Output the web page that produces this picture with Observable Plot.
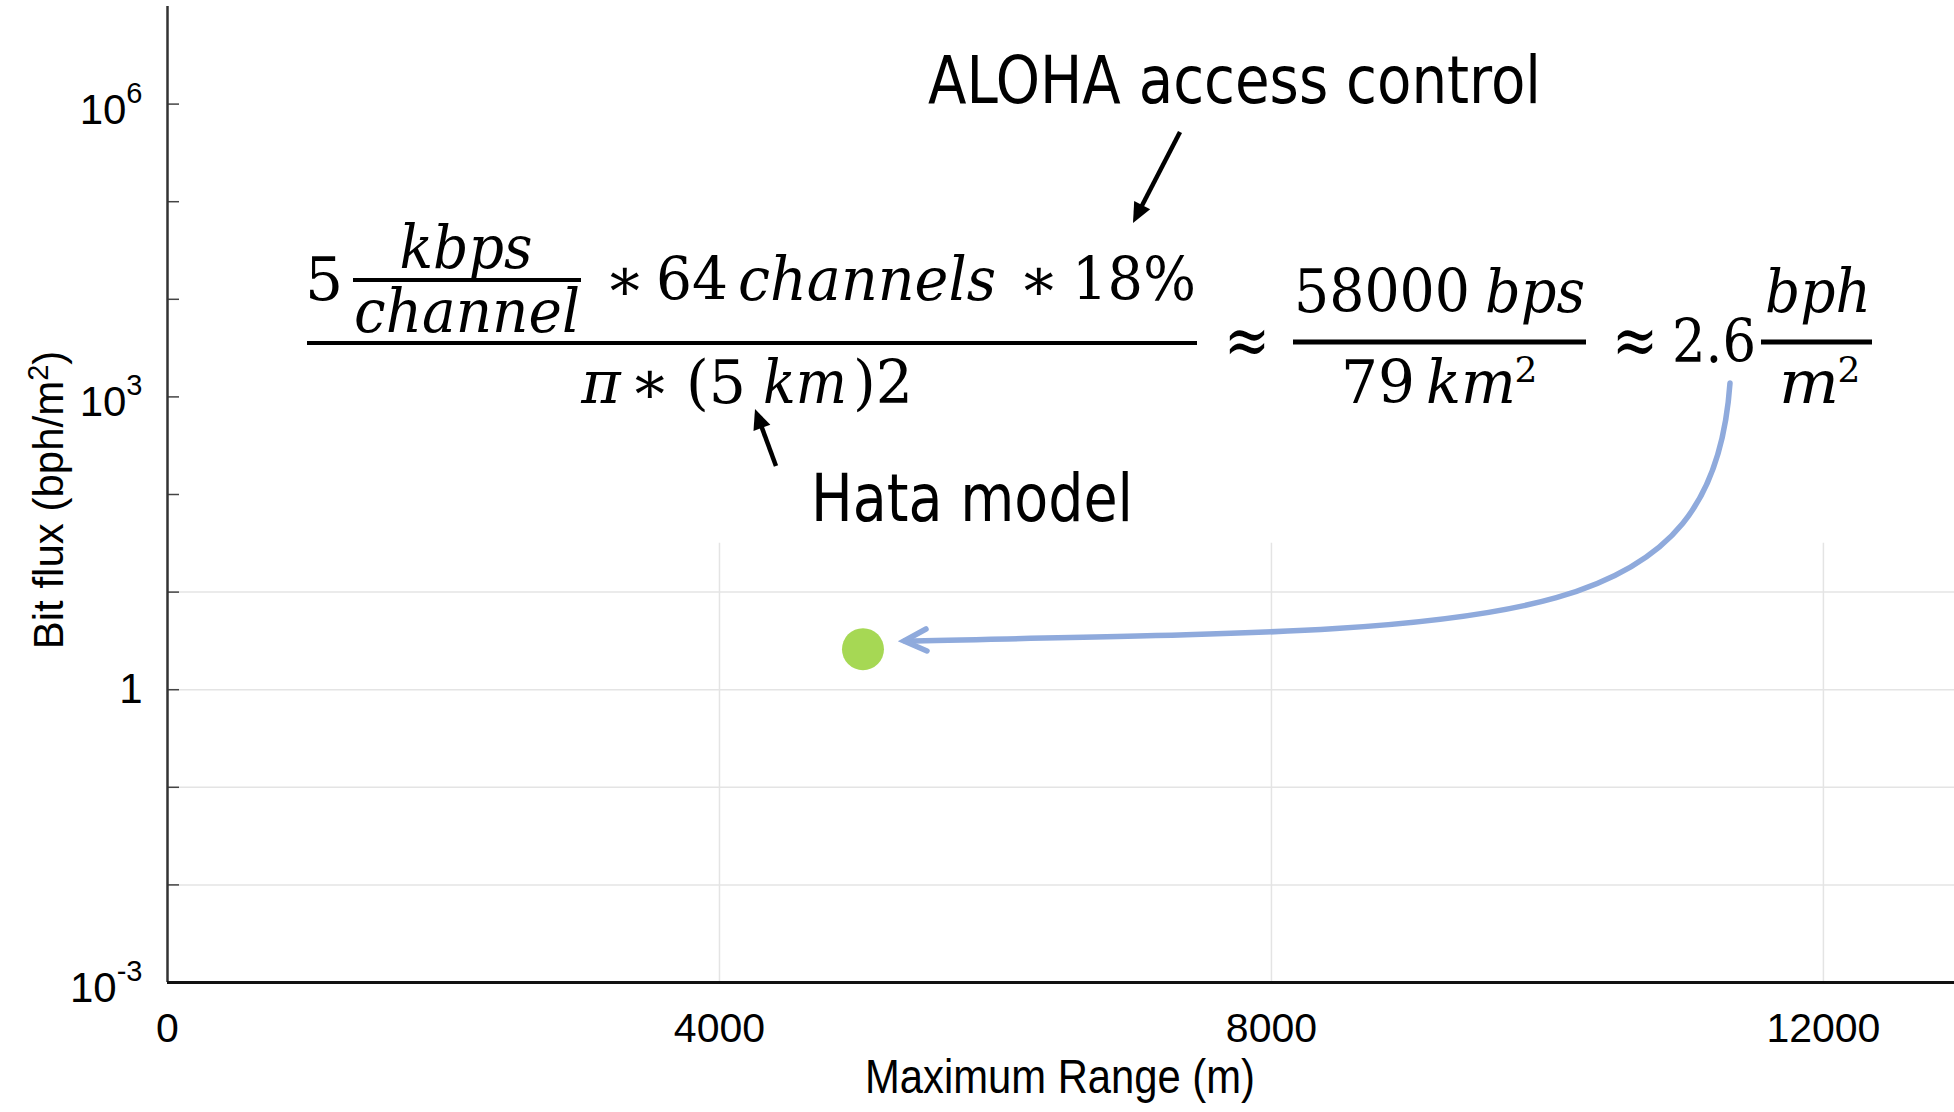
<!DOCTYPE html>
<html><head><meta charset="utf-8">
<script src="https://cdn.jsdelivr.net/npm/d3@7"></script>
<script src="https://cdn.jsdelivr.net/npm/@observablehq/plot@0.6"></script>
<style>
html,body{margin:0;padding:0;background:#fff;}
#chart svg{display:block;}
</style></head><body><div id="chart"></div>
<script>
// ---------------- data ----------------
const rangeM = [5040];          // Maximum Range (m)
const bitFlux = [2.6];          // Bit flux (bph/m^2)
const xTicks = [0, 4000, 8000, 12000];
const xTickLabels = ["0", "4000", "8000", "12000"];
const yDecades = [1e-3, 1e-2, 1e-1, 1, 1e1, 1e2, 1e3, 1e4, 1e5, 1e6];
const yLabelTicks = [1e-3, 1, 1e3, 1e6];
const yTickBase = ["10", "1", "10", "10"];
const yTickExp = ["-3", "", "3", "6"];
const yGrid = [1e-2, 1e-1, 1, 1e1];
const xGrid = [4000, 8000, 12000];
const gridTop = Math.pow(10, 1.5);
const xDomain = [0, 12950];
const yDomain = [1e-3, 1e7];
const xTitle = "Maximum Range (m)";
const yTitle = "Bit flux (bph/m";
const yTitleSup = "2";
const alohaText = "ALOHA access control";
const hataText = "Hata model";

// ---------------- chart ----------------
const W = 1954, H = 1112;
const points = rangeM.map((x, i) => ({x, y: bitFlux[i]}));

const plot = Plot.plot({
  width: W, height: H,
  marginLeft: 167, marginRight: 0, marginTop: 6, marginBottom: 130,
  x: {domain: xDomain},
  y: {type: "log", domain: yDomain},
  style: {fontFamily: "'Liberation Sans', Arial, sans-serif", background: "#fff", color: "#000", overflow: "visible"},
  marks: [
    Plot.ruleY(yGrid, {stroke: "#e4e4e4", strokeWidth: 1.5}),
    Plot.ruleX(xGrid, {y1: yDomain[0], y2: gridTop, stroke: "#e4e4e4", strokeWidth: 1.5}),
    Plot.axisY({ticks: yDecades, tickSize: -12, tickFormat: () => "", stroke: "#444", strokeWidth: 1.5, label: null}),
    Plot.axisY({ticks: yLabelTicks, tickSize: 0, tickPadding: 25, fontSize: 42, label: null,
      tickFormat: d => { const i = yLabelTicks.indexOf(d); return yTickExp[i] ? yTickBase[i] + "^" + yTickExp[i] : yTickBase[i]; }}),
    Plot.axisX({ticks: xTicks, tickSize: 0, tickPadding: 30, fontSize: 41, label: null,
      tickFormat: d => xTickLabels[xTicks.indexOf(d)]}),
    Plot.ruleX([xDomain[0]], {stroke: "#333", strokeWidth: 2.5}),
    Plot.ruleY([yDomain[0]], {stroke: "#111", strokeWidth: 3}),
    Plot.dot(points, {x: "x", y: "y", r: 21, fill: "#a6d854", stroke: "none"})
  ]
});
document.getElementById("chart").appendChild(plot);

const svg = d3.select(plot);
// superscript tick labels
svg.selectAll('g[aria-label="y-axis tick label"] text').each(function () {
  const t = d3.select(this);
  const s = t.text();
  if (!s.includes("^")) return;
  const [b, e] = s.split("^");
  t.text(null);
  t.append("tspan").attr("dy", 6).text(b);
  t.append("tspan").attr("dy", -21).attr("font-size", 29).text(e);
});

// ---------------- annotations (layout) ----------------
const ov = svg.append("g").attr("class", "annotations").attr("text-anchor", "start");
const sans = "'Liberation Sans', Arial, sans-serif";

// axis titles
ov.append("text").attr("x", 1060).attr("y", 1093).attr("text-anchor", "middle")
  .attr("font-family", sans).attr("font-size", 48)
  .attr("textLength", 390).attr("lengthAdjust", "spacingAndGlyphs").text(xTitle);
const yt = ov.append("text").attr("transform", "translate(63,500) rotate(-90)")
  .attr("text-anchor", "middle").attr("font-family", sans).attr("font-size", 42);
yt.append("tspan").text(yTitle);
yt.append("tspan").attr("dy", -15).attr("font-size", 29).text(yTitleSup);
yt.append("tspan").attr("dy", 15).text(")");

// equation
const serif = "'DejaVu Serif', serif";
const EQ = [
  ["5", 324, 300, 0],
  ["kbps", 466, 268, 1, 133],
  ["channel", 467, 332, 1, 226],
  ["\u2217", 625, 300, 0],
  ["64", 692, 300, 0, 72],
  ["channels", 867, 300, 1, 258],
  ["\u2217", 1039, 300, 0],
  ["18%", 1134, 300, 0, 124],
  ["\u03c0", 601, 403, 1],
  ["\u2217", 650, 403, 0],
  ["(5", 716, 403, 0, 60],
  ["km", 805, 403, 1, 84],
  [")2", 883, 403, 0, 60],
  ["\u2248", 1247, 364, 0, 46, 70],
  ["58000", 1382, 312, 0, 176],
  ["bps", 1535, 312, 1, 100],
  ["79", 1378, 403, 0, 74],
  ["km", 1471, 403, 1, 90],
  ["2", 1526, 382, 0, null, 36],
  ["\u2248", 1635, 364, 0, 46, 70],
  ["2.6", 1714, 362, 0, 84],
  ["bph", 1818, 312, 1, 106],
  ["m", 1809, 403, 1, 60],
  ["2", 1849, 382, 0, null, 36]
];
EQ.forEach(([t, cx, y, it, w, fs]) => {
  const e = ov.append("text").attr("x", cx).attr("y", y).attr("text-anchor", "middle")
    .attr("font-family", serif).attr("font-size", fs || 60)
    .attr("font-style", it ? "italic" : "normal").text(t);
  if (w) e.attr("textLength", w).attr("lengthAdjust", "spacingAndGlyphs");
});
const BARS = [[307, 1197, 343, 4], [353, 581, 280, 4], [1293, 1586, 342, 5], [1761, 1872, 342, 5]];
BARS.forEach(([x1, x2, y, th]) => {
  ov.append("rect").attr("x", x1).attr("y", y - th / 2).attr("width", x2 - x1).attr("height", th).attr("fill", "#000");
});

// labels
ov.append("text").attr("x", 928).attr("y", 103).attr("text-anchor", "start")
  .attr("font-family", "'DejaVu Sans', sans-serif")
  .attr("font-size", 66).attr("textLength", 613).attr("lengthAdjust", "spacingAndGlyphs").text(alohaText);
ov.append("text").attr("x", 811).attr("y", 521).attr("text-anchor", "start")
  .attr("font-family", "'DejaVu Sans', sans-serif")
  .attr("font-size", 66).attr("textLength", 322).attr("lengthAdjust", "spacingAndGlyphs").text(hataText);

// black arrows
function blackArrow(x1, y1, x2, y2) {
  const dx = x2 - x1, dy = y2 - y1, L = Math.hypot(dx, dy);
  const ux = dx / L, uy = dy / L, hl = 20, hw = 9;
  const bx = x2 - ux * hl, by = y2 - uy * hl;
  ov.append("line").attr("x1", x1).attr("y1", y1).attr("x2", bx + ux * 2).attr("y2", by + uy * 2)
    .attr("stroke", "#000").attr("stroke-width", 4.5);
  ov.append("polygon").attr("points",
    `${x2},${y2} ${bx - uy * hw},${by + ux * hw} ${bx + uy * hw},${by - ux * hw}`).attr("fill", "#000");
}
blackArrow(1180, 132, 1133, 223);
blackArrow(776, 466, 755, 409);

// blue curved arrow
const blue = "#8faadc";
ov.append("path").attr("d", "M1730,383 C1712,640 1500,628 905,641")
  .attr("fill", "none").attr("stroke", blue).attr("stroke-width", 5.5).attr("stroke-linecap", "round");
ov.append("polyline").attr("points", "926,629 904,641 927,651")
  .attr("fill", "none").attr("stroke", blue).attr("stroke-width", 5.5)
  .attr("stroke-linecap", "round").attr("stroke-linejoin", "miter");
</script>
</body></html>
